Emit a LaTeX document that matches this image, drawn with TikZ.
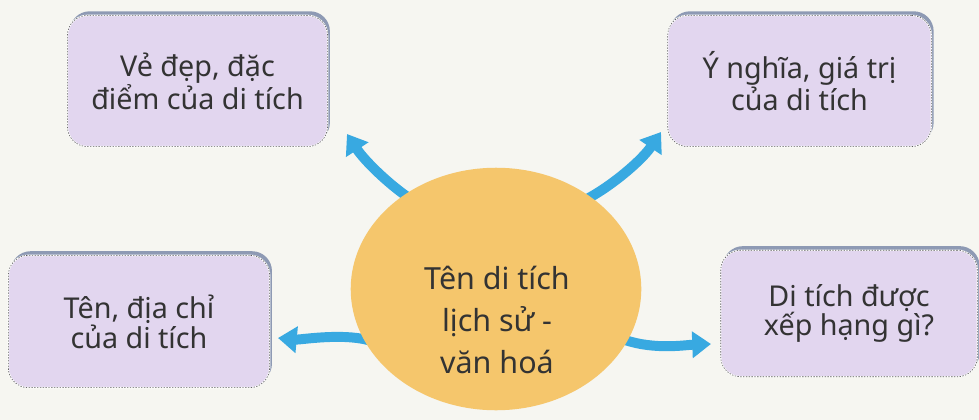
\documentclass[tikz,border=0pt]{standalone}
\usepackage{fontspec}
\setmainfont{Noto Sans}
\usetikzlibrary{arrows.meta,shapes.geometric,shadows,backgrounds}
\definecolor{bgc}{HTML}{F6F6F1}
\definecolor{boxc}{HTML}{E2D6EF}
\definecolor{shc}{HTML}{8E9AB4}
\definecolor{circc}{HTML}{F5C66C}
\definecolor{arrc}{HTML}{38A9E1}
\definecolor{txtc}{HTML}{333333}
\definecolor{dashc}{HTML}{5A5A5A}
\tikzset{
  infobox/.style={rounded corners=17pt, fill=boxc, draw=white, line width=1.2pt,
    minimum height=112pt, align=center, inner sep=0pt, text=txtc,
    font=\fontsize{24.5}{23.5}\selectfont,
    general shadow={fill=shc, shadow xshift=2pt, shadow yshift=3.5pt},
    postaction={draw=dashc, line width=0.5pt, dash pattern=on 1.2pt off 1.2pt}},
  bigarrow/.style={draw=arrc, line width=8.5pt, -{Triangle[length=16pt,width=22pt]}},
  hub/.style={ellipse, fill=circc, minimum width=248pt, minimum height=207pt, inner sep=0pt},
  hubtext/.style={align=center, text=txtc, font=\fontsize{26}{35.5}\selectfont, inner sep=0pt}
}
\begin{document}
\begin{tikzpicture}[x=0.03cm,y=-0.03cm]
\useasboundingbox (0,0) rectangle (979,420);
\begin{scope}[on background layer]
  \fill[bgc] (0,0) rectangle (979,420);
\end{scope}

\node[infobox, minimum width=222pt] (b1) at (197.5,81) {Vẻ đẹp, đặc\\điểm của di tích};
\node[infobox, minimum width=225pt] (b2) at (799.5,81) {Ý nghĩa, giá trị\\của di tích};
\node[infobox, minimum width=223pt, minimum height=113pt] (b3) at (139,321.5) {Tên, địa chỉ\\của di tích};
\node[infobox, minimum width=219pt, minimum height=108pt] (b4) at (849,313.5) {Di tích được\\xếp hạng gì?};

\node[hub] (c) at (496,289) {};
\node[hubtext] (ct) at (497,320) {Tên di tích\\lịch sử -\\văn hoá};

\coordinate (s1) at (412,200);
\coordinate (s2) at (585,200);
\coordinate (s3) at (368,340);
\coordinate (s4) at (625,340);
\coordinate (t1) at (347,134);
\coordinate (t2) at (661,132);
\coordinate (t3) at (278,338);
\coordinate (t4) at (711,344);

\begin{scope}[on background layer]
  \draw[bigarrow] (s1) .. controls (388,184) and (364,160) .. (t1);
  \draw[bigarrow] (s2) .. controls (612,186) and (642,160) .. (t2);
  \draw[bigarrow] (s3) .. controls (340,333) and (300,340) .. (t3);
  \draw[bigarrow] (s4) .. controls (655,350) and (685,345) .. (t4);
\end{scope}
\end{tikzpicture}
\end{document}
